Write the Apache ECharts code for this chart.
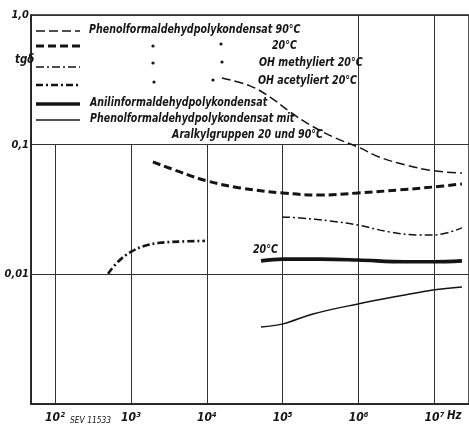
<!DOCTYPE html>
<html><head><meta charset="utf-8">
<script src="https://cdn.jsdelivr.net/npm/echarts@6/dist/echarts.min.js"></script>
<style>html,body{margin:0;background:#fff}#c{width:469px;height:426px}</style>
</head><body><div id="c"></div>
<script>
// Frequencies (Hz) and tan delta values
const fPhenol90 = [1.58e4, 3.71e4, 6.81e4, 1.25e5, 2.29e5, 4.89e5, 9.8e5, 1.91e6, 4.08e6, 9.55e6, 2.30e7];
const vPhenol90 = [0.327, 0.284, 0.233, 0.179, 0.142, 0.113, 0.096, 0.080, 0.070, 0.063, 0.0605];
const fPhenol20 = [1.95e3, 4.44e3, 1.01e4, 2.74e4, 1.01e5, 3.10e5, 9.8e5, 3.51e6, 9.84e6, 2.30e7];
const vPhenol20 = [0.0736, 0.0616, 0.0525, 0.0464, 0.0424, 0.0409, 0.0424, 0.0448, 0.0472, 0.0498];
const fMethyl = [9.8e4, 1.69e5, 4.2e5, 9.8e5, 2.59e6, 6.44e6, 9.55e6, 2.30e7];
const vMethyl = [0.0277, 0.0272, 0.0258, 0.0240, 0.0212, 0.0201, 0.0201, 0.0228];
const fAcetyl = [500, 676, 1.0e3, 1.53e3, 2.42e3, 4.44e3, 9.46e3];
const vAcetyl = [0.0101, 0.0125, 0.0149, 0.0166, 0.0175, 0.0179, 0.0181];
const fAnilin = [5.18e4, 1.01e5, 3.10e5, 9.8e5, 4.08e6, 9.55e6, 2.30e7];
const vAnilin = [0.0127, 0.0131, 0.0131, 0.0129, 0.0125, 0.0125, 0.0127];
const fAralkyl = [5.18e4, 1.01e5, 2.51e5, 9.8e5, 4.08e6, 9.55e6, 2.30e7];
const vAralkyl = [0.00393, 0.00415, 0.00495, 0.00591, 0.00694, 0.00758, 0.0080];
const xTickLabels = {2: '10²', 3: '10³', 4: '10⁴', 5: '10⁵', 6: '10⁶', 7: '10⁷'};
const yTickLabels = {1: '1,0', 0.1: '0,1', 0.01: '0,01', 0.001: ''};
const legendNames = ['Phenolformaldehydpolykondensat 90°C', '20°C', 'OH methyliert 20°C', 'OH acetyliert 20°C', 'Anilinformaldehydpolykondensat', 'Phenolformaldehydpolykondensat mit', 'Aralkylgruppen 20 und 90°C'];

const pairs = (f, v) => f.map((x, i) => [x, v[i]]);
const INK = '#141414';
const FONT = '"DejaVu Sans Condensed","DejaVu Sans",sans-serif';
const styles = [
  {w: 1.5, d: [9, 4]},
  {w: 3, d: [8, 4]},
  {w: 1.5, d: [8, 3, 2, 3]},
  {w: 2.6, d: [7, 3, 2, 3]},
  {w: 3.6, d: 'solid'},
  {w: 1.5, d: 'solid'}
];
const dataSets = [pairs(fPhenol90, vPhenol90), pairs(fPhenol20, vPhenol20), pairs(fMethyl, vMethyl),
  pairs(fAcetyl, vAcetyl), pairs(fAnilin, vAnilin), pairs(fAralkyl, vAralkyl)];

const series = dataSets.map((d, i) => ({
  type: 'line', data: d, smooth: 0.4, showSymbol: false, symbol: 'none', z: 3,
  lineStyle: {color: INK, width: styles[i].w, type: styles[i].d, cap: 'butt'}
}));

const chart = echarts.init(document.getElementById('c'), null, {renderer: 'canvas'});
const lf = (size) => 'italic bold ' + size + 'px ' + FONT;
const txt = (t, x, y, size, align, sx) => ({type: 'text', z: 10, x: x, y: y, scaleX: sx || 0.88,
  style: {text: t, x: 0, y: 0, font: lf(size || 12), fill: INK, align: align || 'left', verticalAlign: 'middle'}});
const legY = [31, 46, 67, 85, 104, 120];
const graphic = [
  {type: 'rect', z: 1, shape: {x: 32, y: 16, width: 325, height: 128}, style: {fill: '#fff'}},
  txt(legendNames[0], 89, 30),
  txt(legendNames[1], 272, 46),
  txt(legendNames[2], 259, 63),
  txt(legendNames[3], 258, 81),
  txt(legendNames[4], 90, 103),
  txt(legendNames[5], 90, 119),
  txt(legendNames[6], 323, 135, 12, 'right'),
  txt('tgδ', 15, 60, 12, 'left', 0.95),
  txt('20°C', 253, 250, 12),
  txt('Hz', 447, 416, 12, 'left', 0.95),
  {type: 'text', z: 10, x: 70, y: 421, scaleX: 1.05, style: {text: 'SEV 11533', x: 0, y: 0, font: 'italic 8px ' + FONT, fill: INK, verticalAlign: 'middle'}}
];
styles.forEach((s, i) => {
  graphic.push({type: 'line', z: 10, shape: {x1: 36, y1: legY[i], x2: 80, y2: legY[i]},
    style: {stroke: INK, lineWidth: s.w, lineDash: s.d === 'solid' ? null : s.d}});
});
[[153, 46], [221, 44], [153, 63], [222, 62], [154, 82], [213, 80]].forEach(p => {
  graphic.push({type: 'circle', z: 10, shape: {cx: p[0], cy: p[1], r: 1.6}, style: {fill: INK}});
});

chart.setOption({
  animation: false,
  backgroundColor: '#fff',
  grid: {left: 31, right: 0, top: 15, bottom: 22, show: true, borderColor: '#222', borderWidth: 1.5},
  xAxis: {
    type: 'log', min: 48.3, max: 2.85e7,
    axisLine: {show: true, lineStyle: {color: '#222', width: 1.5}},
    axisTick: {show: false},
    splitLine: {show: true, lineStyle: {color: '#333', width: 1}},
    axisLabel: {
      margin: 8, showMinLabel: false, showMaxLabel: false,
      color: INK, fontFamily: FONT, fontStyle: 'italic', fontWeight: 'bold', fontSize: 12,
      formatter: v => {
        const e = Math.log10(v), r = Math.round(e);
        if (Math.abs(e - r) > 0.01) return '';
        return xTickLabels[r] || '';
      }
    }
  },
  yAxis: {
    type: 'log', min: 0.001, max: 1,
    axisLine: {show: true, lineStyle: {color: '#222', width: 1.5}},
    axisTick: {show: false},
    splitLine: {show: true, lineStyle: {color: '#333', width: 1}},
    axisLabel: {
      margin: 2, color: INK, fontFamily: FONT, fontStyle: 'italic', fontWeight: 'bold', fontSize: 11,
      formatter: v => {
        const k = Object.keys(yTickLabels).find(key => Math.abs(Math.log10(v) - Math.log10(+key)) < 0.01);
        return k !== undefined ? yTickLabels[k] : '';
      }
    }
  },
  series: series,
  graphic: graphic
});
</script></body></html>
